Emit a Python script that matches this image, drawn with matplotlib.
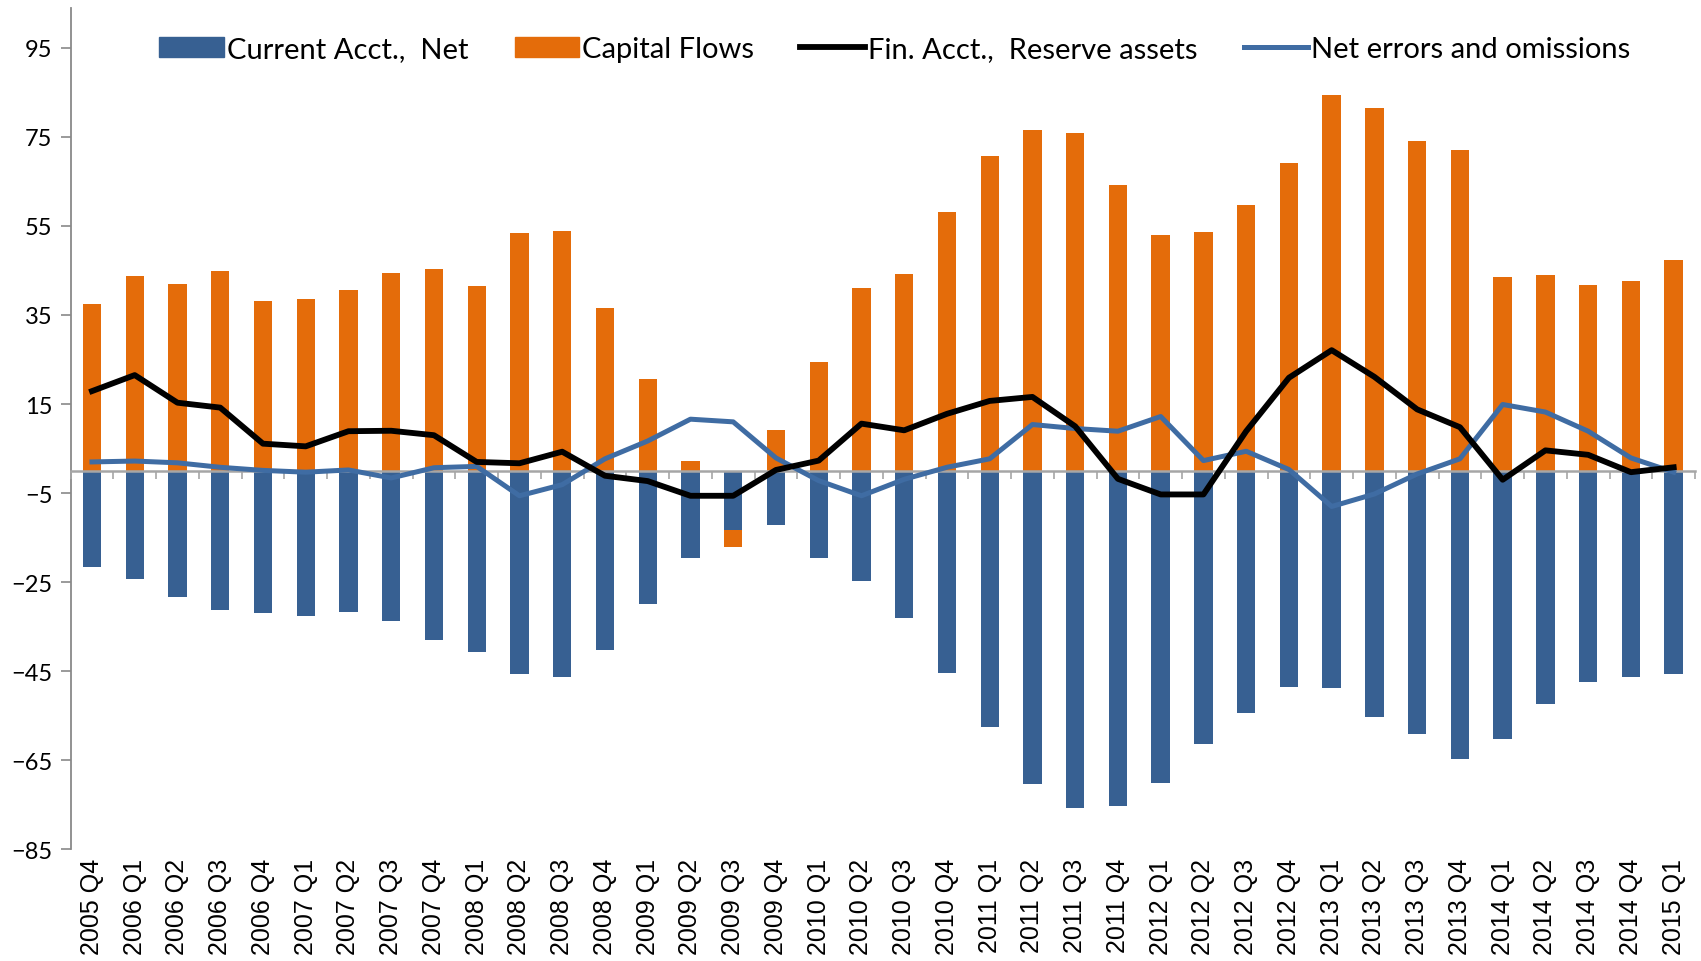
import numpy as np
import matplotlib
matplotlib.use('Agg')
import matplotlib.pyplot as plt
from matplotlib.lines import Line2D
from matplotlib.patches import Patch

# quarters 2005 Q4 .. 2015 Q1
quarters = ["2005 Q4"] + [f"{y} Q{q}" for y in range(2006, 2015) for q in range(1, 5)] + ["2015 Q1"]

current_acct = [-21.5, -24.3, -28.4, -31.2, -32.0, -32.5, -31.7, -33.7, -37.9, -40.6,
                -45.7, -46.4, -40.3, -29.9, -19.6, -13.2, -12.1, -19.5, -24.8, -33.0,
                -45.4, -57.6, -70.4, -75.8, -75.2, -70.2, -61.3, -54.4, -48.6, -48.7,
                -55.3, -59.1, -64.7, -60.2, -52.4, -47.3, -46.4, -45.6]
capital_flows = [37.4, 43.8, 42.0, 44.9, 38.2, 38.6, 40.5, 44.5, 45.3, 41.6,
                 53.3, 53.9, 36.5, 20.6, 2.3, -3.9, 9.2, 24.5, 41.1, 44.3,
                 58.1, 70.8, 76.5, 75.9, 64.2, 53.0, 53.6, 59.6, 69.2, 84.5,
                 81.4, 74.0, 72.0, 43.5, 44.0, 41.8, 42.7, 47.3]
reserve_assets = [17.9, 21.5, 15.3, 14.2, 6.1, 5.5, 8.9, 9.0, 8.0, 2.0,
                  1.7, 4.3, -1.1, -2.3, -5.6, -5.6, 0.2, 2.3, 10.6, 9.1,
                  12.8, 15.7, 16.6, 10.0, -1.8, -5.3, -5.3, 8.9, 20.9, 27.1,
                  21.1, 13.8, 9.8, -2.0, 4.6, 3.6, -0.3, 0.8]
net_errors = [2.0, 2.2, 1.8, 0.8, 0.1, -0.3, 0.2, -1.6, 0.7, 1.0,
              -5.6, -3.1, 2.7, 6.7, 11.6, 11.0, 2.9, -2.2, -5.6, -1.9,
              0.8, 2.7, 10.4, 9.5, 8.9, 12.2, 2.3, 4.4, 0.3, -8.0,
              -5.2, -0.7, 2.7, 14.9, 13.2, 8.9, 2.9, -0.3]

C_BLUE = '#376092'
C_ORANGE = '#E46C0A'
C_LINE = '#3F6CA3'
GRID = '#898989'

fig = plt.figure(figsize=(17.01, 9.62), dpi=100)
ax = fig.add_axes([0.0415, 0.116, 0.955, 0.875])

x = np.arange(len(quarters))
ca = np.array(current_acct)
cf = np.array(capital_flows)
# stacked like Excel: negatives stack below negatives
cf_bottom = np.where(cf < 0, np.minimum(ca, 0), 0)

w = 0.43
ax.bar(x, ca, width=w, color=C_BLUE, zorder=2)
ax.bar(x, cf, width=w, bottom=cf_bottom, color=C_ORANGE, zorder=2)
ax.plot(x, reserve_assets, color='black', lw=4.2, zorder=4)
ax.plot(x, net_errors, color=C_LINE, lw=3.6, zorder=3)

ymin, ymax = -85, 104
ax.set_ylim(ymin, ymax)
ax.set_xlim(-0.5, len(quarters) - 0.5)
ax.set_yticks(np.arange(-85, 96, 20))
ax.tick_params(axis='y', direction='out', length=7, width=1.2, color=GRID,
               labelsize=17, pad=6)
for lbl in ax.get_yticklabels():
    lbl.set_family('Lato')

ax.set_xticks(x)
ax.set_xticklabels(quarters, rotation=90, fontsize=18, family='Liberation Sans')
ax.tick_params(axis='x', length=0, pad=6)

for s in ['top', 'right', 'bottom']:
    ax.spines[s].set_visible(False)
ax.spines['left'].set_color(GRID)
ax.spines['left'].set_linewidth(1.3)

# horizontal axis line at zero with boundary ticks
zero_pos = (0 - ymin) / (ymax - ymin)
sec = ax.secondary_xaxis(zero_pos)
sec.set_xticks(np.arange(-0.5, len(quarters), 1.0))
sec.set_xticklabels([])
sec.tick_params(direction='out', length=6, width=1.2, color='#A6A6A6')
sec.spines['bottom'].set_color('#A6A6A6')
sec.spines['bottom'].set_linewidth(1.8)
sec.set_zorder(2.5)

handles = [Patch(color=C_BLUE), Patch(color=C_ORANGE),
           Line2D([], [], color='black', lw=4.2), Line2D([], [], color=C_LINE, lw=3.6)]
labels = ["Current Acct.,  Net", "Capital Flows", "Fin. Acct.,  Reserve assets",
          "Net errors and omissions"]
fig.legend(handles, labels, loc='center', bbox_to_anchor=(0.526, 0.948), ncol=4,
           frameon=False, prop={'family': 'Lato', 'size': 21}, handlelength=2.2,
           handleheight=0.7, handletextpad=0.1, columnspacing=1.6)

fig.savefig('out.png', dpi=100)
